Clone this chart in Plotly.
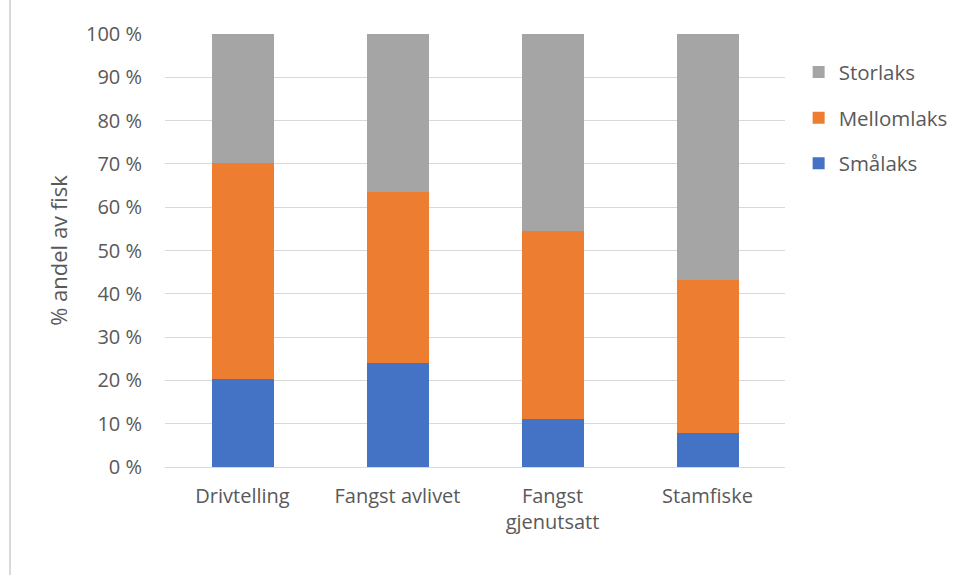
import plotly.graph_objects as go

categories = ["Drivtelling", "Fangst avlivet", "Fangst<br>gjenutsatt", "Stamfiske"]
smalaks = [20.3, 24.1, 11.2, 7.9]
mellomlaks = [49.9, 39.4, 43.2, 35.2]
storlaks = [29.8, 36.5, 45.6, 56.9]

series = [
    ("Smålaks", smalaks, "#4472c4", 3),
    ("Mellomlaks", mellomlaks, "#ed7d31", 2),
    ("Storlaks", storlaks, "#a5a5a5", 1),
]

TEXT = "#595959"
FONT = "Open Sans"

fig = go.Figure()
for name, vals, color, rank in series:
    fig.add_trace(go.Bar(
        x=categories, y=vals, name=name,
        marker=dict(color=color, line=dict(width=0)),
        legendgroup=name, legendrank=rank,
    ))

fig.update_layout(
    barmode="stack",
    bargap=0.6,
    width=959, height=575,
    margin=dict(l=165, r=174, t=34, b=108, autoexpand=False),
    paper_bgcolor="white",
    plot_bgcolor="white",
    font=dict(family=FONT, size=20, color=TEXT),
    legend=dict(
        x=1.022, y=0.958, xanchor="left", yanchor="top",
        traceorder="grouped", tracegroupgap=16,
        font=dict(size=20.5, color=TEXT),
        itemwidth=30,
    ),
    xaxis=dict(
        showgrid=False, showline=False, zeroline=False,
        ticks="outside", ticklen=11, tickcolor="rgba(0,0,0,0)",
        tickfont=dict(size=20, color=TEXT),
    ),
    yaxis=dict(
        range=[0, 100], dtick=10,
        ticksuffix=" %",
        showgrid=True, gridcolor="#d9d9d9", gridwidth=1,
        zeroline=True, zerolinecolor="#d9d9d9", zerolinewidth=1,
        showline=False,
        ticks="outside", ticklen=18, tickcolor="rgba(0,0,0,0)",
        tickfont=dict(size=20, color=TEXT),
        title=dict(text="% andel av fisk", font=dict(size=22, color=TEXT), standoff=12),
    ),
    shapes=[
        dict(type="line", xref="paper", yref="paper",
             x0=-155 / 620, x1=-155 / 620, y0=-2, y1=2,
             line=dict(color="#d9d9d9", width=2)),
    ],
)

fig.write_html("out.html")
